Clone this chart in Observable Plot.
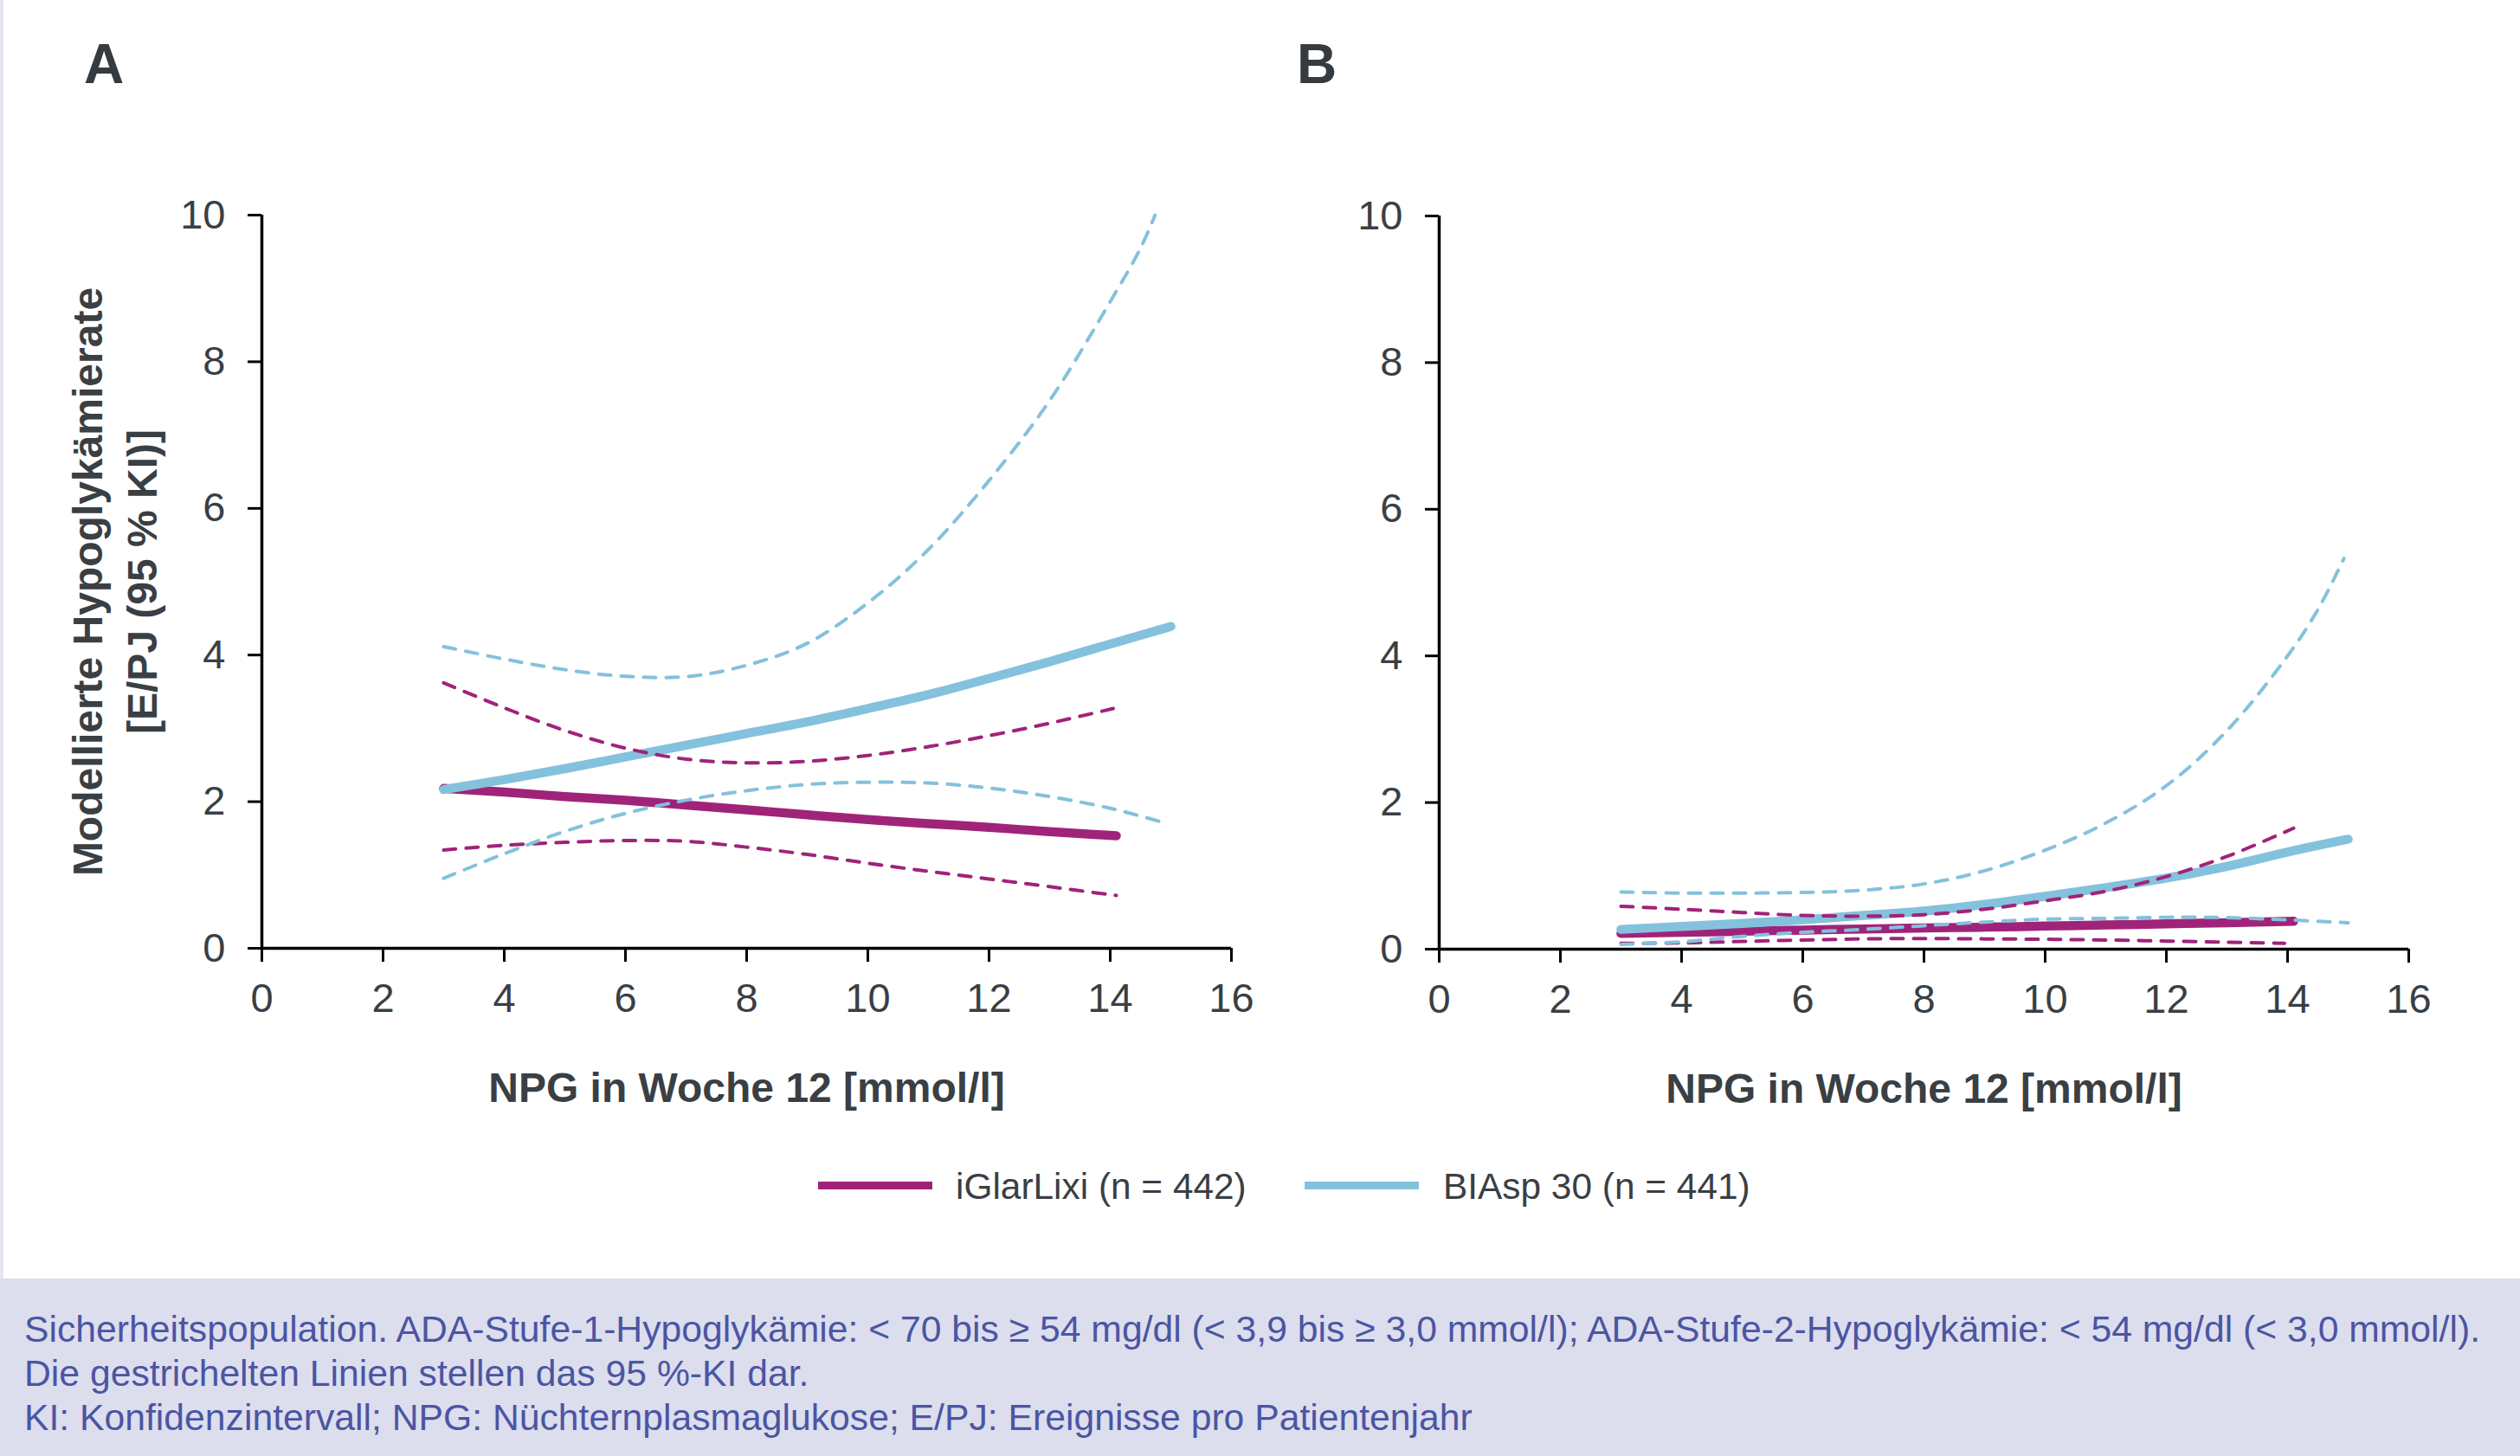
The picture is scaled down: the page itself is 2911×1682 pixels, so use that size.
<!DOCTYPE html>
<html>
<head>
<meta charset="utf-8">
<script src="https://cdn.jsdelivr.net/npm/d3@7"></script>
<script src="https://cdn.jsdelivr.net/npm/@observablehq/plot@0.6"></script>
<style>
  html, body { margin: 0; padding: 0; background: #ffffff; }
  #page { position: relative; width: 2911px; height: 1682px; overflow: hidden; background: #ffffff;
          font-family: "Liberation Sans", Arial, sans-serif; }
  #page svg { position: absolute; top: 0; overflow: visible; }
  g[aria-label$="tick label"] { fill: #3a3f44; }
  .letter { position: absolute; font-size: 64px; font-weight: bold; line-height: 1; color: #363b3f; }
  .swatch { position: absolute; height: 9px; width: 132px; }
  .legtext { position: absolute; font-size: 42.4px; line-height: 1; color: #3a3f44; white-space: nowrap; }
  #leftedge { position: absolute; left: 0; top: 0; width: 4px; height: 1477px; background: #e4e5ef; }
  #footer { position: absolute; left: 0; top: 1477px; width: 2911px; height: 205px; background: #dcdeee; }
  #footnote { position: absolute; left: 28px; top: 1510px; font-size: 42.7px; line-height: 51px; color: #4b55a3; white-space: nowrap; }
</style>
</head>
<body>
<div id="page">
  <div id="leftedge"></div>
  <div id="footer"></div>
</div>
<script>
// ---------- data ----------
const xTicks = [0, 2, 4, 6, 8, 10, 12, 14, 16];
const yTicks = [0, 2, 4, 6, 8, 10];
const xTitle = "NPG in Woche 12 [mmol/l]";
const yTitle = "Modellierte Hypoglykämierate\n[E/PJ (95 % KI)]";
const panelLabels = ["A", "B"];
const seriesNames = ["iGlarLixi (n = 442)", "BIAsp 30 (n = 441)"];
const seriesColors = ["#a0237a", "#84c1dc"];
const footnotes = [
  "Sicherheitspopulation. ADA-Stufe-1-Hypoglykämie: < 70 bis ≥ 54 mg/dl (< 3,9 bis ≥ 3,0 mmol/l); ADA-Stufe-2-Hypoglykämie: < 54 mg/dl (< 3,0 mmol/l).",
  "Die gestrichelten Linien stellen das 95 %-KI dar.",
  "KI: Konfidenzintervall; NPG: Nüchternplasmaglukose; E/PJ: Ereignisse pro Patientenjahr"
];

// Panel A
const A_iGlar_x    = [3, 4, 5, 6, 7, 8, 9, 10, 11, 12, 13, 14.1];
const A_iGlar_rate = [2.18, 2.13, 2.07, 2.02, 1.955, 1.89, 1.82, 1.755, 1.70, 1.65, 1.59, 1.535];
const A_iGlar_upX  = [3, 4, 5, 6, 7, 8, 9, 10, 11, 12, 13, 14.05];
const A_iGlar_up   = [3.62, 3.28, 2.97, 2.73, 2.58, 2.53, 2.55, 2.63, 2.75, 2.90, 3.07, 3.27];
const A_iGlar_loX  = [3, 4, 5, 6, 7, 8, 9, 10, 11, 12, 13, 14.1];
const A_iGlar_lo   = [1.34, 1.405, 1.445, 1.47, 1.46, 1.38, 1.28, 1.16, 1.05, 0.945, 0.84, 0.72];
const A_biasp_x    = [3, 4, 5, 6, 7, 8, 9, 10, 11, 12, 13, 14, 15];
const A_biasp_rate = [2.165, 2.30, 2.45, 2.61, 2.77, 2.93, 3.09, 3.27, 3.46, 3.68, 3.91, 4.15, 4.39];
const A_biasp_upX  = [3, 4, 5, 6, 7, 8, 9, 10, 11, 12, 13, 14, 14.5, 14.74];
const A_biasp_up   = [4.115, 3.945, 3.80, 3.71, 3.705, 3.86, 4.16, 4.71, 5.44, 6.38, 7.47, 8.82, 9.55, 10.0];
const A_biasp_loX  = [3, 4, 5, 6, 7, 8, 9, 10, 11, 12, 13, 14, 14.86];
const A_biasp_lo   = [0.955, 1.29, 1.595, 1.84, 2.02, 2.15, 2.235, 2.265, 2.255, 2.185, 2.07, 1.91, 1.72];

// Panel B
const B_iGlar_x    = [3, 4, 5, 6, 7, 8, 9, 10, 11, 12, 13, 14.1];
const B_iGlar_rate = [0.215, 0.23, 0.245, 0.26, 0.275, 0.29, 0.30, 0.315, 0.33, 0.345, 0.36, 0.38];
const B_iGlar_upX  = [3, 4, 5, 6, 7, 8, 9, 10, 11, 12, 13, 14.1];
const B_iGlar_up   = [0.585, 0.545, 0.50, 0.46, 0.45, 0.47, 0.545, 0.66, 0.79, 0.99, 1.265, 1.65];
const B_iGlar_loX  = [3, 4, 5, 6, 7, 8, 9, 10, 11, 12, 13, 13.95];
const B_iGlar_lo   = [0.08, 0.085, 0.105, 0.125, 0.14, 0.145, 0.14, 0.135, 0.125, 0.11, 0.095, 0.08];
const B_biasp_x    = [3, 4, 5, 6, 7, 8, 9, 10, 11, 12, 13, 14, 15];
const B_biasp_rate = [0.27, 0.31, 0.35, 0.40, 0.46, 0.52, 0.61, 0.72, 0.84, 0.97, 1.13, 1.325, 1.50];
const B_biasp_upX  = [3, 4, 5, 6, 7, 8, 9, 10, 11, 12, 13, 14, 14.5, 14.93];
const B_biasp_up   = [0.78, 0.765, 0.765, 0.773, 0.805, 0.89, 1.07, 1.35, 1.72, 2.23, 2.98, 4.0, 4.63, 5.33];
const B_biasp_loX  = [3, 4, 5, 6, 7, 8, 9, 10, 11, 12, 13, 14, 15];
const B_biasp_lo   = [0.065, 0.10, 0.175, 0.23, 0.27, 0.32, 0.37, 0.41, 0.42, 0.435, 0.43, 0.40, 0.36];

// ---------- build ----------
const zip = (xs, ys) => xs.map((x, i) => ({x, y: ys[i]}));
const TEXT = "#3a3f44";
const FONT = "Liberation Sans, Arial, sans-serif";

function panel(p) {
  const solid = (d, c) => Plot.line(d, {x: "x", y: "y", stroke: c, strokeWidth: 10.5, strokeLinecap: "round", curve: "catmull-rom"});
  const dash = (d, c) => Plot.line(d, {x: "x", y: "y", stroke: c, strokeWidth: 4, strokeDasharray: "14,12", curve: "catmull-rom"});
  const marks = [
    Plot.axisX({ticks: xTicks, tickSize: 16, tickPadding: 24, fontSize: 47, strokeWidth: 3, stroke: "black", label: null, tickFormat: d => String(d)}),
    Plot.axisY({ticks: yTicks, tickSize: 16, tickPadding: 26, fontSize: 47, strokeWidth: 3, stroke: "black", label: null, tickFormat: d => String(d)}),
    Plot.ruleX([0], {stroke: "black", strokeWidth: 3.5}),
    Plot.ruleY([0], {stroke: "black", strokeWidth: 3.5}),
    solid(p.iGlar, seriesColors[0]),
    solid(p.biasp, seriesColors[1]),
    dash(p.iGlarUp, seriesColors[0]),
    dash(p.iGlarLo, seriesColors[0]),
    dash(p.biaspUp, seriesColors[1]),
    dash(p.biaspLo, seriesColors[1]),
    Plot.text([xTitle], {text: d => d, frameAnchor: "bottom", lineAnchor: "middle", textAnchor: "middle", dy: 162, fontSize: 48, fontWeight: "bold", fill: TEXT})
  ];
  if (p.yTitle) {
    marks.push(Plot.text([yTitle], {text: d => d, frameAnchor: "left", textAnchor: "middle", lineAnchor: "middle", dx: -173, rotate: -90, fontSize: 48, fontWeight: "bold", lineHeight: 1.3, fill: TEXT}));
  }
  return Plot.plot({
    width: p.width, height: 1300,
    marginLeft: p.ml, marginRight: p.mr, marginTop: p.mt, marginBottom: p.mb,
    x: {domain: [0, 16]},
    y: {domain: [0, 10]},
    style: {fontFamily: FONT, background: "transparent", color: "black"},
    marks
  });
}

const page = document.getElementById("page");

const svgA = panel({
  width: 1456, ml: 302, mr: 34, mt: 248, mb: 205, yTitle: true,
  iGlar: zip(A_iGlar_x, A_iGlar_rate), iGlarUp: zip(A_iGlar_upX, A_iGlar_up), iGlarLo: zip(A_iGlar_loX, A_iGlar_lo),
  biasp: zip(A_biasp_x, A_biasp_rate), biaspUp: zip(A_biasp_upX, A_biasp_up), biaspLo: zip(A_biasp_loX, A_biasp_lo)
});
svgA.style.left = "0px";
page.appendChild(svgA);

const svgB = panel({
  width: 1455, ml: 206, mr: 129, mt: 249, mb: 204, yTitle: false,
  iGlar: zip(B_iGlar_x, B_iGlar_rate), iGlarUp: zip(B_iGlar_upX, B_iGlar_up), iGlarLo: zip(B_iGlar_loX, B_iGlar_lo),
  biasp: zip(B_biasp_x, B_biasp_rate), biaspUp: zip(B_biasp_upX, B_biasp_up), biaspLo: zip(B_biasp_loX, B_biasp_lo)
});
svgB.style.left = "1456px";
page.appendChild(svgB);

// panel letters
[[panelLabels[0], 97], [panelLabels[1], 1498]].forEach(([t, left]) => {
  const d = document.createElement("div");
  d.className = "letter"; d.textContent = t;
  d.style.left = left + "px"; d.style.top = "42px";
  page.appendChild(d);
});

// legend
const legendPos = [{sw: 945, tx: 1104}, {sw: 1507, tx: 1667}];
seriesNames.forEach((name, i) => {
  const s = document.createElement("div");
  s.className = "swatch"; s.style.background = seriesColors[i];
  s.style.left = legendPos[i].sw + "px"; s.style.top = "1365px";
  page.appendChild(s);
  const t = document.createElement("div");
  t.className = "legtext"; t.textContent = name;
  t.style.left = legendPos[i].tx + "px"; t.style.top = "1350px";
  page.appendChild(t);
});

// footnote
const fn = document.createElement("div");
fn.id = "footnote";
footnotes.forEach(line => { const l = document.createElement("div"); l.textContent = line; fn.appendChild(l); });
page.appendChild(fn);
</script>
</body>
</html>
